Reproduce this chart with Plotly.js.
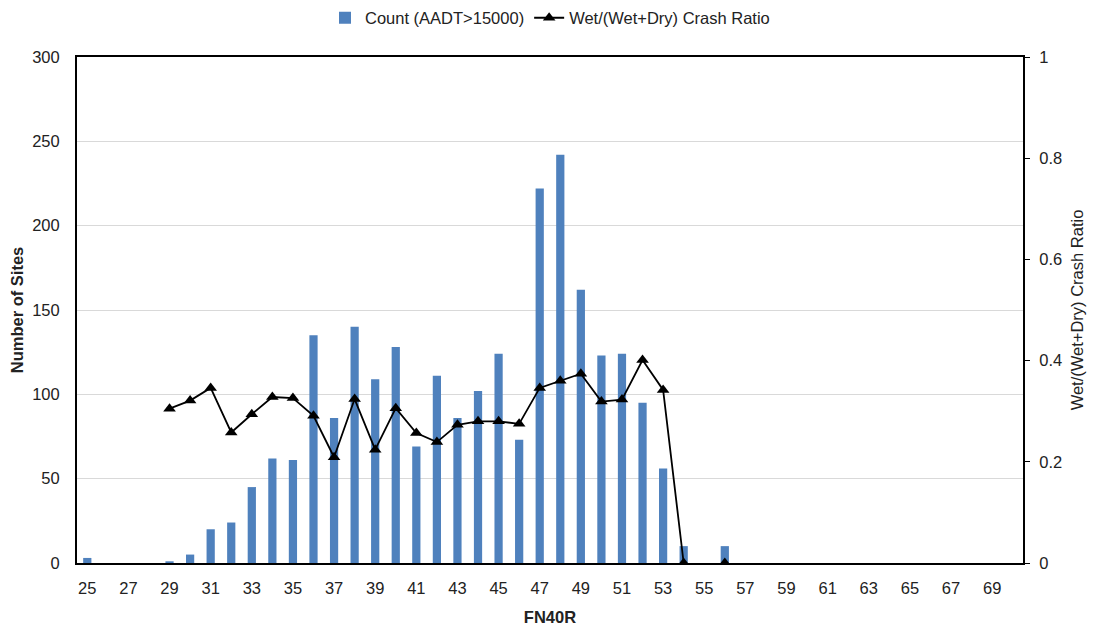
<!DOCTYPE html>
<html>
<head>
<meta charset="utf-8">
<script src="https://cdn.plot.ly/plotly-3.0.1.min.js"></script>
<style>html,body{margin:0;padding:0;background:#fff;}#chart{width:1095px;height:629px;}</style>
</head>
<body>
<div id="chart"></div>
<script>
const fn40r = [25,26,27,28,29,30,31,32,33,34,35,36,37,38,39,40,41,42,43,44,45,46,47,48,49,50,51,52,53,54,55,56,57,58,59,60,61,62,63,64,65,66,67,68,69,70];
const countSites = [3,0,0,0,1,5,20,24,45,62,61,135,86,140,109,128,69,111,86,102,124,73,222,242,162,123,124,95,56,10,0,10,0,0,0,0,0,0,0,0,0,0,0,0,0,0];
const crashRatio = [null,null,null,null,0.305,0.321,0.346,0.258,0.294,0.328,0.326,0.291,0.209,0.324,0.224,0.306,0.257,0.239,0.273,0.280,0.280,0.275,0.346,0.360,0.374,0.319,0.323,0.401,0.342,0,null,0,null,null,null,null,null,null,null,null,null,null,null,null,null,null];
const xTickLabels = ["25","27","29","31","33","35","37","39","41","43","45","47","49","51","53","55","57","59","61","63","65","67","69"];

const font = "Liberation Sans, Arial, sans-serif";
const traces = [
  {
    type: "bar", name: "Count (AADT>15000)", x: fn40r, y: countSites,
    marker: {color: "#4F81BD"}, yaxis: "y"
  },
  {
    type: "scatter", mode: "lines+markers", name: "Wet/(Wet+Dry) Crash Ratio",
    x: fn40r, y: crashRatio, yaxis: "y2", connectgaps: false,
    line: {color: "#000000", width: 1.8},
    marker: {symbol: "triangle-up", size: 11, color: "#000000"}
  }
];
const layout = {
  width: 1095, height: 629,
  margin: {l: 77, r: 72, t: 57, b: 66, autoexpand: false},
  paper_bgcolor: "#fff", plot_bgcolor: "#fff",
  font: {family: font, size: 16, color: "#222"},
  bargap: 0.6,
  showlegend: true,
  legend: {orientation: "h", x: 0.5, xanchor: "center", y: 1.077, yanchor: "middle", font: {size: 16.5}, traceorder: "normal"},
  xaxis: {
    type: "linear", range: [24.5, 70.5],
    tickvals: xTickLabels.map(Number), ticktext: xTickLabels,
    showgrid: false, zeroline: false,
    showline: true, linecolor: "#000", linewidth: 2, mirror: true,
    ticks: "", ticklen: 0, ticklabelstandoff: 9,
    tickfont: {size: 16.5},
    title: {text: "<b>FN40R</b>", font: {size: 16.5}, standoff: 16}
  },
  yaxis: {
    range: [0, 300], dtick: 50, tick0: 0,
    showgrid: true, gridcolor: "#d9d9d9", gridwidth: 1,
    zeroline: false, showline: true, linecolor: "#000", linewidth: 2,
    ticks: "", ticklen: 0, ticklabelstandoff: 12,
    tickfont: {size: 16.5},
    title: {text: "<b>Number of Sites</b>", font: {size: 16.5}, standoff: 4}
  },
  yaxis2: {
    overlaying: "y", side: "right", range: [0, 1], dtick: 0.2, tick0: 0,
    showgrid: false, zeroline: false,
    showline: true, linecolor: "#000", linewidth: 2,
    ticks: "outside", ticklen: 5, tickcolor: "#000", ticklabelstandoff: 6,
    tickfont: {size: 16.5},
    title: {text: "Wet/(Wet+Dry) Crash Ratio", font: {size: 16.5}, standoff: 10}
  }
};
Plotly.newPlot("chart", traces, layout, {displayModeBar: false, staticPlot: true});
</script>
</body>
</html>
